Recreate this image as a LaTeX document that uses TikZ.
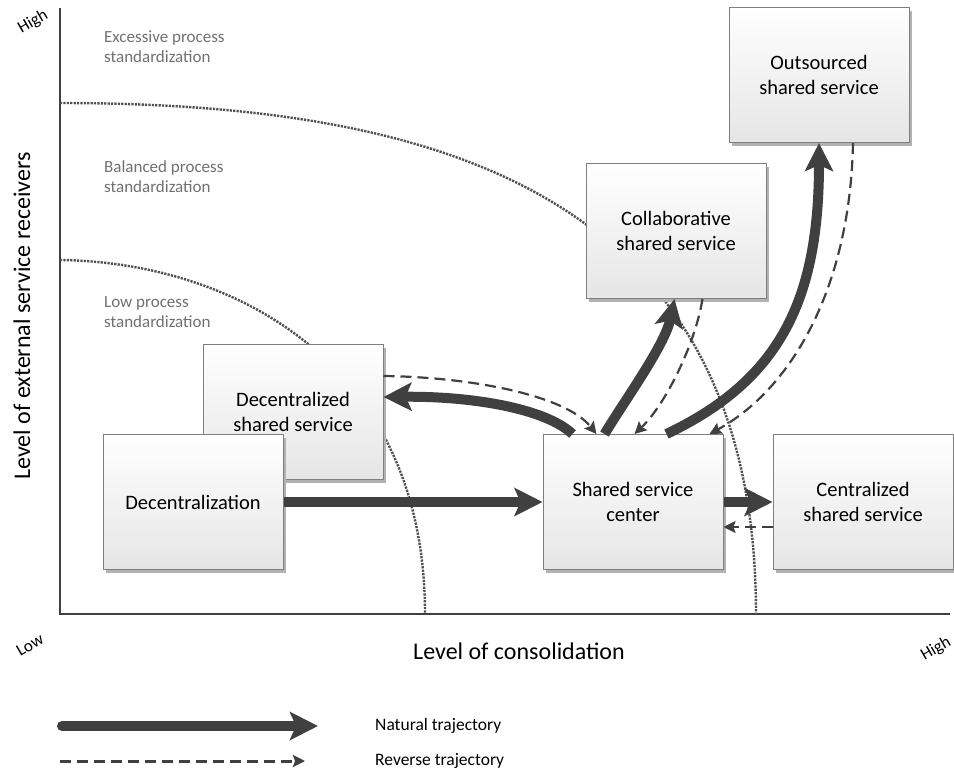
\documentclass[tikz,border=0pt]{standalone}
\usepackage{fontspec}
\setmainfont{Carlito}
\usetikzlibrary{arrows.meta,shadows}
\definecolor{darkarrow}{HTML}{404040}
\definecolor{boxline}{HTML}{7F7F7F}
\definecolor{zonegray}{HTML}{707070}
\definecolor{dotgray}{HTML}{505050}

\begin{document}
\begin{tikzpicture}[x=1pt, y=-1pt,
	stage/.style={draw=boxline, line width=1pt, top color=white, bottom color=black!10,
		minimum width=180pt, minimum height=135pt, align=center, font=\fontsize{20.5}{25}\selectfont,
		drop shadow={shadow xshift=3pt, shadow yshift=-3pt, fill=black!30, opacity=1}},
	natural/.style={draw=darkarrow, line width=10pt, -{Stealth[length=28pt,width=28pt,inset=6pt]}},
	reverse/.style={draw=darkarrow, line width=2.2pt, dash pattern=on 11pt off 6pt, -{Stealth[length=12pt,width=12pt,inset=2pt]}},
	boundary/.style={draw=dotgray, line width=2.4pt, dash pattern=on 2.2pt off 1.2pt},
	zone/.style={anchor=west, align=left, inner sep=0pt, text=zonegray, font=\fontsize{17}{20}\selectfont},
	axis/.style={draw=darkarrow, line width=1.5pt},
	ends/.style={rotate=30, inner sep=0pt, font=\fontsize{17}{20}\selectfont},
	legend/.style={anchor=west, inner sep=0pt, font=\fontsize{17.5}{20}\selectfont}]
	\useasboundingbox (0,0) rectangle (954,772);

	\coordinate (top) at (60,8); \coordinate (origin) at (60,614); \coordinate (right) at (950,614);
	\draw[axis] (top) -- (origin) -- (right);
	\node[rotate=90, font=\fontsize{24}{28}\selectfont] (ylab) at (22,316) {Level of external service receivers};
	\node[font=\fontsize{24}{28}\selectfont] (xlab) at (519,651) {Level of consolidation};
	\node[ends] (yhigh) at (33,22) {High};
	\node[ends] (xlow) at (30,645) {Low};
	\node[ends] (xhigh) at (936,649) {High};

	\foreach \nm/\y/\lab in {excess/47/Excessive, balance/177/Balanced, low/312/Low}
		\node[zone] (\nm) at (104,\y) {\lab{} process\\standardization};

	\draw[boundary] (60,103) .. controls (450,103) and (756,200) .. (756,614);
	\draw[boundary] (60,260) .. controls (230,262) and (425,360) .. (425,614);

	\foreach \nm/\x/\y/\txt in {decshared/293/412/{Decentralized\\shared service}, dec/193/502/Decentralization,
		ssc/633/502/{Shared service\\center}, cent/863/502/{Centralized\\shared service},
		collab/676/231/{Collaborative\\shared service}, outs/819/75/{Outsourced\\shared service}}
		\node[stage] (\nm) at (\x,\y) {\txt};

	\draw[natural] (dec.east) -- (ssc.west);
	\draw[natural] ([xshift=30pt]ssc.north west) .. controls (545,408) and (470,396) .. ([yshift=-53pt]decshared.north east);
	\draw[natural] ([xshift=62pt]ssc.north west) .. controls (625,400) and (665,345) .. ([xshift=89pt]collab.south west);
	\draw[natural] ([xshift=124pt]ssc.north west) .. controls (780,380) and (819,300) .. (outs.south);
	\draw[natural] (ssc.east) -- (cent.west);

	\draw[reverse] ([yshift=-32pt]decshared.north east) .. controls (470,377) and (565,395) .. ([xshift=54pt]ssc.north west);
	\draw[reverse] ([xshift=117pt]collab.south west) .. controls (695,345) and (665,405) .. ([xshift=92pt]ssc.north west);
	\draw[reverse] ([xshift=34pt]outs.south) .. controls (850,290) and (790,390) .. ([xshift=167pt]ssc.north west);
	\draw[reverse] ([yshift=-25pt]cent.west) -- ([yshift=-25pt]ssc.east);

	\coordinate (natA) at (62,726); \coordinate (natB) at (318,726);
	\draw[natural, line cap=round] (natA) -- (natB);
	\node[legend] (natlab) at (375,726) {Natural trajectory};
	\coordinate (revA) at (60,761); \coordinate (revB) at (305,761);
	\draw[reverse, line width=3pt] (revA) -- (revB);
	\node[legend] (revlab) at (375,761) {Reverse trajectory};
\end{tikzpicture}
\end{document}
